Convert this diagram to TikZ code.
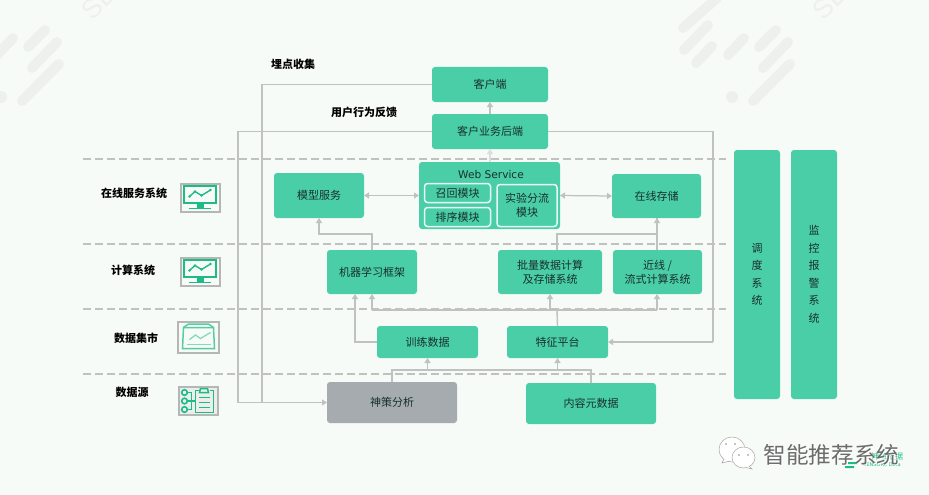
\documentclass[tikz,border=0pt]{standalone}
\usepackage{fontspec}
\setmainfont{Noto Sans CJK SC}
\newfontfamily\latinfont{DejaVu Sans}
\newfontfamily\thinfont{Liberation Sans}
\usetikzlibrary{arrows.meta}
\definecolor{bgc}{HTML}{F7FBF7}
\definecolor{gboxc}{HTML}{4ACEA8}
\definecolor{greyboxc}{HTML}{A5ABAE}
\definecolor{linec}{HTML}{BFC2C1}
\definecolor{textc}{HTML}{17302A}
\definecolor{wmc}{HTML}{EEF0EC}
\definecolor{iconc}{HTML}{1DBB88}
\definecolor{framec}{HTML}{B4B7B6}
\tikzset{
  x=1pt,y=-1pt,
  gbox/.style={fill=gboxc,rounded corners=3pt,inner sep=0pt,outer sep=0pt,align=center,text=textc,font=\fontsize{11}{14}\selectfont},
  greybox/.style={gbox,fill=greyboxc},
  innerbox/.style={gbox,draw=white!88!gboxc,line width=1.5pt},
  tag/.style={inner sep=0pt,text=black,font=\fontsize{11}{14}\selectfont\bfseries},
  conn/.style={draw=linec,line width=1.25pt},
  arr/.style={conn,-{Triangle[width=6pt,length=5pt]}},
  biarr/.style={conn,{Triangle[width=6pt,length=5pt]}-{Triangle[width=6pt,length=5pt]}},
  tier/.style={draw=linec,line width=1.8pt,dash pattern=on 8pt off 4pt},
  wmbar/.style={draw=wmc,line width=10pt,line cap=round},
  iconframe/.style={draw=framec,line width=2pt,fill=bgc},
  iconline/.style={draw=iconc,line width=1.3pt},
}
\newcommand{\wmpattern}[1]{%
  \begin{scope}[xshift=#1pt]
    \draw[wmbar] (683,28)--(717,-2);
    \draw[wmbar] (684,50)--(708,25);
    \draw[wmbar] (696,63)--(712,46);
    \draw[wmbar] (728,55)--(744,38);
    \draw[wmbar] (759,47)--(776,30);
    \draw[wmbar] (763,68)--(788,42);
    \draw[wmbar] (753,101)--(790,64);
    \fill[wmc] (732,97) circle (6);
    \node[inner sep=0pt,text=wmc,rotate=45,font=\fontsize{27}{27}\selectfont\thinfont] at (830,2) {SE};
  \end{scope}}
\newcommand{\monitoricon}[2]{%
  \begin{scope}[shift={(#1,#2)}]
    \draw[iconframe] (0,0) rectangle (39,28.5);
    \draw[iconline,line width=2pt] (3,2.5) rectangle (35.5,19.5);
    \draw[iconline,line width=1.4pt] (9,13)--(14.5,8)--(21,12)--(30,6.5);
    \fill[iconc] (9,13) circle (1.3) (14.5,8) circle (1.3) (21,12) circle (1.3) (30,6.5) circle (1.3);
    \fill[iconc] (16.5,20) rectangle (23.5,24);
    \draw[iconline,line width=1.5pt] (8,24.8)--(30.5,24.8);
  \end{scope}}
\begin{document}
\begin{tikzpicture}
\useasboundingbox (0,0) rectangle (929,495);
\fill[bgc] (0,0) rectangle (929,495);
\wmpattern{0}
\wmpattern{-731}

% tier lines
\foreach \yy in {159,244,309,374} \draw[tier] (83,\yy)--(726,\yy);

% nodes
\node[gbox,minimum width=116pt,minimum height=35pt] (client) at (490,84.5) {客户端};
\node[gbox,minimum width=116pt,minimum height=35pt] (backend) at (490,131.5) {客户业务后端};
\node[gbox,minimum width=141pt,minimum height=67pt] (web) at (489.5,195.5) {};
\node[inner sep=0pt,text=textc,font=\fontsize{10.6}{12}\selectfont\latinfont] (webt) at (491,175) {Web Service};
\node[innerbox,minimum width=66pt,minimum height=19pt] (recall) at (457.5,193) {召回模块};
\node[innerbox,minimum width=66pt,minimum height=19pt] (rank) at (457.5,217) {排序模块};
\node[innerbox,minimum width=60pt,minimum height=42pt] (exp) at (527,205.5) {实验分流\\模块};
\node[gbox,minimum width=90pt,minimum height=45pt] (model) at (319,195.5) {模型服务};
\node[gbox,minimum width=89pt,minimum height=44pt] (store) at (656.5,196) {在线存储};
\node[gbox,minimum width=90pt,minimum height=44pt] (ml) at (372,272) {机器学习框架};
\node[gbox,minimum width=104pt,minimum height=44pt] (batch) at (550,272) {批量数据计算\\及存储系统};
\node[gbox,minimum width=89pt,minimum height=44pt] (stream) at (657.5,272) {近线 /\\流式计算系统};
\node[gbox,minimum width=101pt,minimum height=32pt] (train) at (427.5,342) {训练数据};
\node[gbox,minimum width=101pt,minimum height=32pt] (feat) at (557.5,342) {特征平台};
\node[greybox,minimum width=130pt,minimum height=41pt] (sensors) at (392,402.5) {神策分析};
\node[gbox,minimum width=130pt,minimum height=41pt] (content) at (591,403.5) {内容元数据};
\node[gbox,minimum width=46pt,minimum height=249pt] (sched) at (757,274.5) {调\\[3.5pt]度\\[3.5pt]系\\[3.5pt]统};
\node[gbox,minimum width=46pt,minimum height=249pt] (alarm) at (814,274.5) {监\\[3.5pt]控\\[3.5pt]报\\[3.5pt]警\\[3.5pt]系\\[3.5pt]统};

% labels
\node[tag] (lbura) at (293,64) {埋点收集};
\node[tag] (lbfb) at (364,112) {用户行为反馈};
\node[tag] (t1) at (134,193) {在线服务系统};
\node[tag] (t2) at (133,270) {计算系统};
\node[tag] (t3) at (136,338) {数据集市};
\node[tag] (t4) at (132,392) {数据源};

% connector way-points
\coordinate (wa) at (262,402.5);
\coordinate (wb) at (238,402.5);
\coordinate (wc) at (713,342);
\coordinate (mlup) at (372,250);
\coordinate (modelin) at (319,218);
\coordinate (batchup) at (557,250);
\coordinate (storein) at (657,218);
\coordinate (busy) at (557,310);

% connectors
\draw[conn] (client.west) -| (wa);
\draw[conn] (backend.west) -| (wb);
\draw[arr] (wb) -- (sensors.west);
\draw[conn] (backend.east) -| (wc);
\draw[arr] (wc) -- (feat.east);
\draw[arr] (backend.north) -- (client.south);
\draw[arr,draw=linec!50!bgc] (web.north -| backend.south) -- (backend.south);
\draw[biarr] (model.east) -- (web.west);
\draw[biarr] (web.east) -- (store.west);
\draw[arr] (mlup) |- (319,234) -- (modelin);
\draw[arr] (batchup) |- (657,234) -- (storein);
\draw[conn] (stream.north -| storein) -- (storein);
\draw[conn,line width=1.4pt] (feat.north) -- (busy);
\draw[conn,line width=1.4pt] (372,310) -- (657,310);
\draw[arr] (372,310) -- (ml.south -| 372,0);
\draw[arr] (550,310) -- (batch.south);
\draw[arr] (657,310) -- (stream.south -| 657,0);
\draw[arr] (train.west) -| (ml.south -| 355,0);
\draw[conn] (sensors.north) |- (591,370) -- (content.north);
\draw[arr] (train.south |- 427.5,370) -- (train.south);
\draw[arr] (feat.south |- 557.5,370) -- (feat.south);

% icons
\monitoricon{180.5}{183.5}
\monitoricon{180.5}{257.5}
\begin{scope}[shift={(177.5,321.5)}]
  \draw[iconframe] (0,0) rectangle (41.5,31);
  \draw[iconline,draw=iconc!75!white,line width=1.5pt] (6,6)--(36,6)--(37,27)--(5,27)--cycle;
  \draw[iconline,draw=iconc!75!white,line width=1.5pt] (6,6)--(11,2.5)--(31,2.5)--(36,6);
  \draw[iconline,draw=iconc!55!white] (9,23)--(33,23);
  \draw[iconline,draw=iconc!55!white] (12,18)--(18,13.5)--(23,17)--(33,11);
\end{scope}
\begin{scope}[shift={(178.5,386.5)}]
  \draw[iconframe,fill=black!5!bgc] (0,0) rectangle (39.5,28.5);
  \draw[iconline,line width=1.5pt] (20,4)--(17,4)--(17,26)--(35,26)--(35,4)--(31,4);
  \draw[iconline,fill=black!5!bgc,line width=1.5pt] (21,6)--(22,2)--(29,2)--(30,6)--cycle;
  \draw[iconline,line width=1.5pt] (20.5,11)--(31.5,11) (20.5,16)--(31.5,16) (20.5,21)--(31.5,21);
  \draw[iconline,line width=1.5pt] (9,6)--(13,6)--(13,23)--(9,23) (9,14.5)--(17,14.5);
  \foreach \yy in {6,14.5,23} \draw[iconline,line width=1.6pt] (6,\yy) circle (2.8);
\end{scope}

% watermark
\node[inner sep=0pt,text=iconc,font=\fontsize{8}{8}\selectfont] (sdtext) at (887,456) {神策数据};
\node[inner sep=0pt,text=iconc,font=\fontsize{5}{5}\selectfont\latinfont] (sden) at (882,465) {SENSORS Data};
\fill[iconc] (848,462) rectangle (857,464) (845,466) rectangle (854,468);
\node[inner sep=0pt,text=white,font=\fontsize{22.6}{24}\selectfont] (wmw) at (832.5,455.5) {智能推荐系统};
\node[inner sep=0pt,text=black!58,font=\fontsize{22.6}{24}\selectfont] (wmt) at (831.5,454.5) {智能推荐系统};
\draw[draw=black!35,fill=white,line width=.5pt] (732,449.5) ellipse (13 and 12.5);
\draw[draw=black!35,line width=.5pt,fill=white] (724,459)--(722,463)--(730,461);
\draw[draw=black!35,fill=white,line width=.5pt] (743.5,457.5) ellipse (11.5 and 10.5);
\draw[draw=black!35,line width=.5pt,fill=white] (749,466)--(752,469)--(746,467.5);
\fill[black!45] (726,444) circle (.9) (735,444) circle (.9) (739,455) circle (.8) (748,455) circle (.8);
\end{tikzpicture}
\end{document}
